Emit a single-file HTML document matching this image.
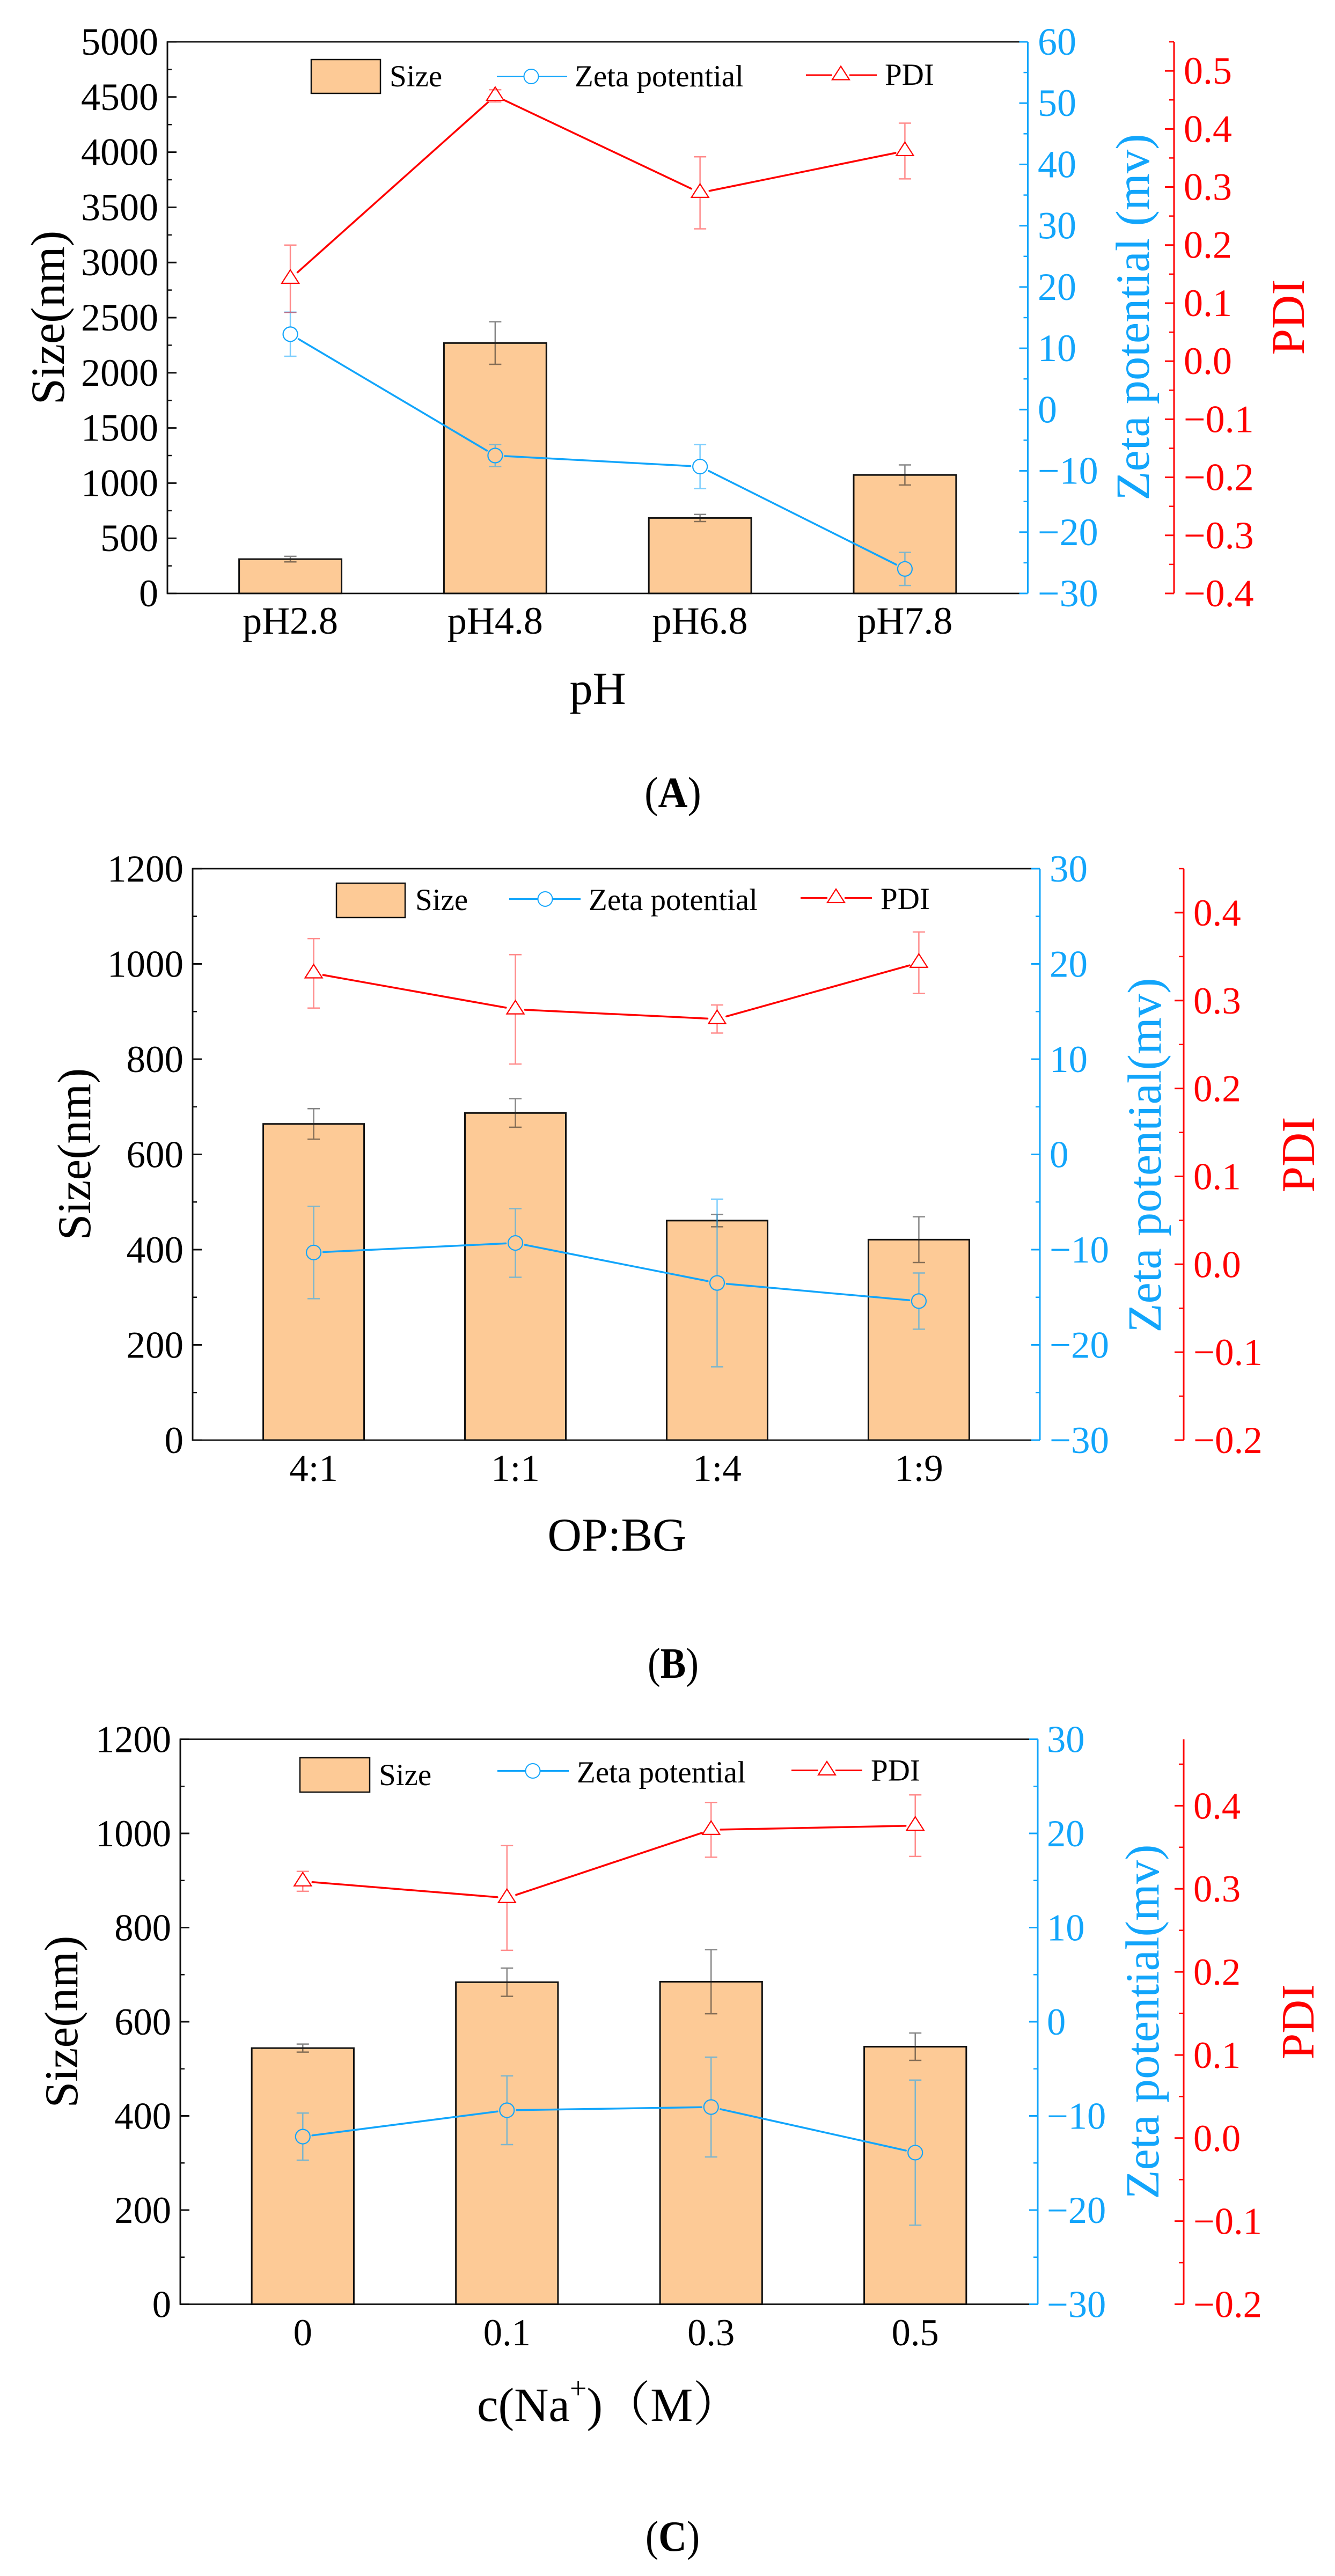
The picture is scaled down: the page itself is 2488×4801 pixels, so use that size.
<!DOCTYPE html>
<html lang="en">
<head>
<meta charset="utf-8">
<title>Size, zeta potential and PDI charts</title>
<style>
html,body{margin:0;padding:0;background:#fff;}
svg{display:block;}
text{font-family:"Liberation Serif","Noto Serif CJK SC",serif;}
</style>
</head>
<body>
<svg id="figure" xmlns="http://www.w3.org/2000/svg" width="2488" height="4801" viewBox="0 0 2488 4801">
<rect x="0" y="0" width="2488" height="4801" fill="#fff"/>

<g id="panel-a"></g>
<g>
  <text transform="translate(119,592) rotate(-90)" font-size="88.5" text-anchor="middle" fill="#000">Size(nm)</text>
  <text transform="translate(2141,591) rotate(-90)" font-size="88.5" text-anchor="middle" fill="#12a5fb">Zeta potential (mv)</text>
  <text transform="translate(2430,591) rotate(-90)" font-size="87.5" text-anchor="middle" fill="#ff0000">PDI</text>
  <text x="1114" y="1312" font-size="86" text-anchor="middle" fill="#000">pH</text>
  <text transform="translate(1254,1504) scale(0.94,1)" font-size="81" text-anchor="middle" fill="#000">(<tspan font-weight="bold">A</tspan>)</text>
  <g>
    <rect x="580" y="111" width="129" height="63" fill="#fdca96" stroke="#111" stroke-width="2.5"/>
    <text x="726" y="161" font-size="57" fill="#000">Size</text>
    <path d="M926 142.5H976M1004 142.5H1057" stroke="#12a5fb" stroke-width="2" fill="none"/>
    <circle cx="990" cy="142.5" r="13.5" fill="none" stroke="#12a5fb" stroke-width="2"/>
    <text x="1071" y="161" font-size="57" fill="#000">Zeta potential</text>
    <path d="M1502 140H1551M1583 140H1634" stroke="#ff0000" stroke-width="3" fill="none"/>
    <path d="M1567 123.5L1583 148.5H1551Z" fill="none" stroke="#ff0000" stroke-width="2.2"/>
    <text x="1649" y="158" font-size="57" fill="#000">PDI</text>
  </g>
</g>

<g id="panel-b"></g>
<g>
  <text transform="translate(168,2151) rotate(-90)" font-size="87.5" text-anchor="middle" fill="#000">Size(nm)</text>
  <text transform="translate(2163,2153) rotate(-90)" font-size="88.5" text-anchor="middle" fill="#12a5fb">Zeta potential(mv)</text>
  <text transform="translate(2449,2152) rotate(-90)" font-size="87.5" text-anchor="middle" fill="#ff0000">PDI</text>
  <text x="1150" y="2890" font-size="88" text-anchor="middle" fill="#000">OP:BG</text>
  <text transform="translate(1254.5,3127) scale(0.88,1)" font-size="81" text-anchor="middle" fill="#000">(<tspan font-weight="bold">B</tspan>)</text>
  <g>
    <rect x="627" y="1646" width="128" height="64" fill="#fdca96" stroke="#111" stroke-width="2.5"/>
    <text x="774" y="1696" font-size="57" fill="#000">Size</text>
    <path d="M949 1675.5H1002M1030 1675.5H1082" stroke="#12a5fb" stroke-width="3.2" fill="none"/>
    <circle cx="1016" cy="1675.5" r="13.5" fill="none" stroke="#12a5fb" stroke-width="2"/>
    <text x="1097" y="1696" font-size="57" fill="#000">Zeta potential</text>
    <path d="M1492 1673.5H1542M1574 1673.5H1625" stroke="#ff0000" stroke-width="3" fill="none"/>
    <path d="M1558 1657L1574 1682H1542Z" fill="none" stroke="#ff0000" stroke-width="2.2"/>
    <text x="1641" y="1694" font-size="57" fill="#000">PDI</text>
  </g>
</g>

<g id="panel-c"></g>
<g>
  <text transform="translate(144,3768) rotate(-90)" font-size="87.5" text-anchor="middle" fill="#000">Size(nm)</text>
  <text transform="translate(2159,3768) rotate(-90)" font-size="88.5" text-anchor="middle" fill="#12a5fb">Zeta potential(mv)</text>
  <text transform="translate(2448,3768) rotate(-90)" font-size="87" text-anchor="middle" fill="#ff0000">PDI</text>
  <text x="889" y="4512" font-size="89" fill="#000">c(Na<tspan font-size="56" dy="-42">+</tspan><tspan dy="42">)</tspan><tspan>（M）</tspan></text>
  <text transform="translate(1253.5,4754) scale(0.9,1)" font-size="81" text-anchor="middle" fill="#000">(<tspan font-weight="bold">C</tspan>)</text>
  <g>
    <rect x="559" y="3276" width="130" height="64" fill="#fdca96" stroke="#111" stroke-width="2.5"/>
    <text x="706" y="3327" font-size="57" fill="#000">Size</text>
    <path d="M927 3300.5H979M1007 3300.5H1060" stroke="#12a5fb" stroke-width="3.2" fill="none"/>
    <circle cx="993" cy="3300.5" r="13.5" fill="none" stroke="#12a5fb" stroke-width="2"/>
    <text x="1075" y="3322" font-size="57" fill="#000">Zeta potential</text>
    <path d="M1475 3299.5H1525M1557 3299.5H1607" stroke="#ff0000" stroke-width="3" fill="none"/>
    <path d="M1541 3283L1557 3308H1525Z" fill="none" stroke="#ff0000" stroke-width="2.2"/>
    <text x="1623" y="3318.5" font-size="57" fill="#000">PDI</text>
  </g>
</g>
</svg>

<script>
// Panel A data
const categoriesA = ['pH2.8', 'pH4.8', 'pH6.8', 'pH7.8'];
const sizeA = [311, 2270, 684, 1074];
const sizeErrA = [25, 193, 32, 91];
const zetaA = [12.3, -7.5, -9.3, -26];
const zetaErrA = [3.6, 1.8, 3.6, 2.7];
const pdiA = [0.142, 0.457, 0.29, 0.362];
const pdiErrA = [0.058, 0.0105, 0.062, 0.048];
const sizeTicksA = ['0', '500', '1000', '1500', '2000', '2500', '3000', '3500', '4000', '4500', '5000'];
const zetaTicksA = ['−30', '−20', '−10', '0', '10', '20', '30', '40', '50', '60'];
const pdiTicksA = ['−0.4', '−0.3', '−0.2', '−0.1', '0.0', '0.1', '0.2', '0.3', '0.4', '0.5'];
const pdiTopA = 0.55;

// Panel B data
const categoriesB = ['4:1', '1:1', '1:4', '1:9'];
const sizeB = [664, 687, 461, 421];
const sizeErrB = [32, 30, 13, 48];
const zetaB = [-10.3, -9.3, -13.5, -15.4];
const zetaErrB = [4.85, 3.6, 8.8, 2.95];
const pdiB = [0.331, 0.29, 0.279, 0.343];
const pdiErrB = [0.0395, 0.0622, 0.016, 0.035];
const sizeTicksB = ['0', '200', '400', '600', '800', '1000', '1200'];
const zetaTicksB = ['−30', '−20', '−10', '0', '10', '20', '30'];
const pdiTicksB = ['−0.2', '−0.1', '0.0', '0.1', '0.2', '0.3', '0.4'];
const pdiTopB = 0.45;

// Panel C data
const categoriesC = ['0', '0.1', '0.3', '0.5'];
const sizeC = [544, 684, 685, 547];
const sizeErrC = [8.5, 30, 68, 29];
const zetaC = [-12.2, -9.4, -9.06, -13.9];
const zetaErrC = [2.5, 3.65, 5.3, 7.7];
const pdiC = [0.309, 0.289, 0.371, 0.376];
const pdiErrC = [0.012, 0.063, 0.033, 0.037];
const sizeTicksC = ['0', '200', '400', '600', '800', '1000', '1200'];
const zetaTicksC = ['−30', '−20', '−10', '0', '10', '20', '30'];
const pdiTicksC = ['−0.2', '−0.1', '0.0', '0.1', '0.2', '0.3', '0.4'];
const pdiTopC = 0.48;

const SVGNS = 'http://www.w3.org/2000/svg';
const BLUE = '#12a5fb';
const RED = '#ff0000';
const BLACK = '#111111';

function mk(parent, tag, attrs, text) {
  const el = document.createElementNS(SVGNS, tag);
  for (const k in attrs) el.setAttribute(k, attrs[k]);
  if (text !== undefined) el.textContent = text;
  parent.appendChild(el);
  return el;
}
function num(s) { return parseFloat(String(s).replace('−', '-')); }

function drawAxis(g, ticks, top, y, axisX, dir, color, majorLen, minorLen, labelX, anchor, fontSize, labelOffset, lineWidth) {
  const line = mk(g, 'line', {x1: axisX, x2: axisX, y1: y.top, y2: y.bottom, stroke: color, 'stroke-width': lineWidth});
  
  
  const vals = ticks.map(num);
  const step = vals[1] - vals[0];
  ticks.forEach(function (label, i) {
    const py = y(vals[i]);
    const tick = mk(g, 'line', {x1: axisX, x2: axisX + dir * majorLen, y1: py, y2: py, stroke: color, 'stroke-width': 3});
    
    
    const t = mk(g, 'text', {x: labelX, y: py + labelOffset, 'font-size': fontSize, 'text-anchor': anchor, fill: color === BLACK ? '#000' : color}, label);
    
    
  });
  for (let i = 0; vals[0] + (i + 0.5) * step <= top + 1e-6; i++) {
    const py = y(vals[0] + (i + 0.5) * step);
    const minor = mk(g, 'line', {x1: axisX, x2: axisX + dir * minorLen, y1: py, y2: py, stroke: color, 'stroke-width': 2.5});
    
    
  }
}

function drawErr(g, cx, py, dy, color, opacity, gapUp, gapDown) {
  const d = 'M' + (cx - 11.5) + ' ' + (py - dy) + 'H' + (cx + 11.5) +
    'M' + (cx - 11.5) + ' ' + (py + dy) + 'H' + (cx + 11.5) +
    (dy > gapUp ? 'M' + cx + ' ' + (py - dy) + 'V' + (py - gapUp) : '') +
    (dy > gapDown ? 'M' + cx + ' ' + (py + gapDown) + 'V' + (py + dy) : '');
  return mk(g, 'path', {d: d, fill: 'none', stroke: color, 'stroke-width': 2.5, 'stroke-opacity': opacity});
}

function drawLine(g, pts, color) {
  const gap = 18;
  for (let i = 0; i < pts.length - 1; i++) {
    const a = pts[i], b = pts[i + 1];
    const len = Math.hypot(b[0] - a[0], b[1] - a[1]);
    const ux = (b[0] - a[0]) / len, uy = (b[1] - a[1]) / len;
    const seg = mk(g, 'line', {x1: a[0] + ux * gap, y1: a[1] + uy * gap, x2: b[0] - ux * gap, y2: b[1] - uy * gap, stroke: color, 'stroke-width': 3.5, 'stroke-linecap': 'round'});
    
    
  }
}

function drawPanel(id, box, categories, size, sizeErr, zeta, zetaErr, pdi, pdiErr, sizeTicks, zetaTicks, pdiTicks, pdiTop) {
  const g = document.getElementById(id);
  const scale = function (lo, hi) {
    const f = function (v) { return box.bottom - (v - lo) / (hi - lo) * (box.bottom - box.top); };
    f.top = box.top;
    f.bottom = box.bottom;
    return f;
  };
  const sizeVals = sizeTicks.map(num);
  const zetaVals = zetaTicks.map(num);
  const pdiVals = pdiTicks.map(num);
  const ySize = scale(sizeVals[0], sizeVals[sizeVals.length - 1]);
  const yZeta = scale(zetaVals[0], zetaVals[zetaVals.length - 1]);
  const yPdi = scale(pdiVals[0], pdiTop);
  const spacing = (box.right - box.left) / 4.2;
  const x = function (i) { return box.left + (i + 0.6) * spacing; };
  const barW = spacing * 0.5;

  // bars
  size.forEach(function (v, i) {
    const bar = mk(g, 'rect', {x: x(i) - barW / 2, y: ySize(v), width: barW, height: ySize(0) - ySize(v), fill: '#fdca96', stroke: BLACK, 'stroke-width': 3});
    
    
  });

  // frame
  const frame = mk(g, 'path', {d: 'M' + (box.right - 16) + ' ' + box.top + 'H' + box.left + 'V' + box.bottom + 'H' + (box.right - 16), fill: 'none', stroke: BLACK, 'stroke-width': 2.8});
  
  

  // axes
  drawAxis(g, sizeTicks, sizeVals[sizeVals.length - 1], ySize, box.left, 1, BLACK, 17, 8, box.left - 17, 'end', box.font, 24, 2.8);
  drawAxis(g, zetaTicks, zetaVals[zetaVals.length - 1], yZeta, box.right, -1, BLUE, 16, 8, box.blueLabel, 'start', box.font, 24, 3);
  drawAxis(g, pdiTicks, pdiTop, yPdi, box.red, -1, RED, 17, 9, box.redLabel, 'start', box.font, 24, 3);

  // category labels
  categories.forEach(function (c, i) {
    const t = mk(g, 'text', {x: x(i), y: box.xLabel, 'font-size': box.font, 'text-anchor': 'middle', fill: '#000'}, c);
    
    
  });

  // size error bars
  sizeErr.forEach(function (e, i) {
    const py = ySize(size[i]);
    const dy = py - ySize(size[i] + e);
    const err = drawErr(g, x(i), py, dy, '#222', 0.55, 0, 0);
    
    
  });

  // zeta series
  const zetaPts = zeta.map(function (v, i) { return [x(i), yZeta(v)]; });
  zetaErr.forEach(function (e, i) {
    const dy = yZeta(zeta[i]) - yZeta(zeta[i] + e);
    const err = drawErr(g, zetaPts[i][0], zetaPts[i][1], dy, BLUE, 0.55, 13.5, 13.5);
    
    
  });
  drawLine(g, zetaPts, BLUE);
  zetaPts.forEach(function (p) {
    const c = mk(g, 'circle', {cx: p[0], cy: p[1], r: 13.5, fill: 'none', stroke: BLUE, 'stroke-width': 2.2});
    
    
  });

  // pdi series
  const pdiPts = pdi.map(function (v, i) { return [x(i), yPdi(v)]; });
  pdiErr.forEach(function (e, i) {
    const dy = yPdi(pdi[i]) - yPdi(pdi[i] + e);
    const err = drawErr(g, pdiPts[i][0], pdiPts[i][1], dy, RED, 0.45, 16.5, 8.5);
    
    
  });
  drawLine(g, pdiPts, RED);
  pdiPts.forEach(function (p) {
    const d = 'M' + p[0] + ' ' + (p[1] - 16.5) + 'L' + (p[0] + 16) + ' ' + (p[1] + 8.5) + 'H' + (p[0] - 16) + 'Z';
    const tri = mk(g, 'path', {d: d, fill: 'none', stroke: RED, 'stroke-width': 2.2});
    
    
  });
}

drawPanel('panel-a', {left: 312, right: 1915.5, top: 78, bottom: 1106, red: 2188, blueLabel: 1934, redLabel: 2206, xLabel: 1181, font: 72},
  categoriesA, sizeA, sizeErrA, zetaA, zetaErrA, pdiA, pdiErrA, sizeTicksA, zetaTicksA, pdiTicksA, pdiTopA);
drawPanel('panel-b', {left: 359, right: 1938, top: 1619, bottom: 2684, red: 2206, blueLabel: 1956, redLabel: 2224, xLabel: 2760, font: 71},
  categoriesB, sizeB, sizeErrB, zetaB, zetaErrB, pdiB, pdiErrB, sizeTicksB, zetaTicksB, pdiTicksB, pdiTopB);
drawPanel('panel-c', {left: 336, right: 1934, top: 3241.5, bottom: 4294.5, red: 2206, blueLabel: 1951, redLabel: 2224, xLabel: 4371, font: 70.5},
  categoriesC, sizeC, sizeErrC, zetaC, zetaErrC, pdiC, pdiErrC, sizeTicksC, zetaTicksC, pdiTicksC, pdiTopC);
</script>
</body>
</html>
